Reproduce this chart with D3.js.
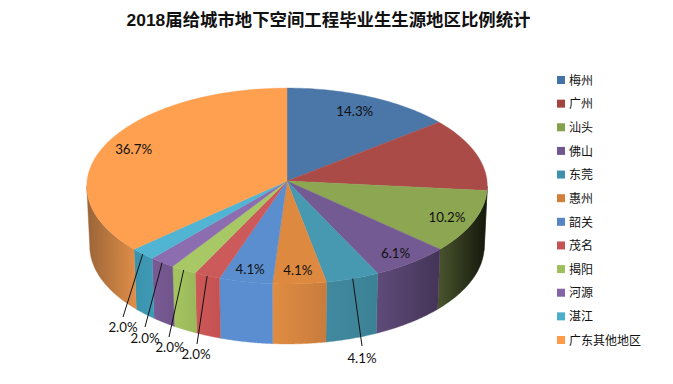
<!DOCTYPE html>
<html><head><meta charset="utf-8">
<script src="https://cdn.jsdelivr.net/npm/d3@7"></script>
<style>html,body{margin:0;padding:0;background:#fff}svg{display:block}</style>
</head><body><svg id="c" width="673" height="384"></svg>
<script>
const chartTitle = ["2018", "届给城市地下空间工程毕业生生源地区比例统计"];
const categories = ["梅州","广州","汕头","佛山","东莞","惠州","韶关","茂名","揭阳","河源","湛江","广东其他地区"];
const values = [14.3,12.2,10.2,6.1,4.1,4.1,4.1,2.0,2.0,2.0,2.0,36.7];
const showLabel = [true,false,true,true,true,true,true,true,true,true,true,true];
const topColors = ["#4a76a8","#aa4b48","#8ca652","#745a92","#4799b1","#dd8a40","#5b8ecf","#cd5a5a","#a8c865","#8c6eb0","#50b4d2","#ffa050"];
const legendColors = ["#4472a6","#a5433f","#86a04b","#6f5790","#3f90ab","#d27f3a","#5585c5","#c65353","#9fbf5c","#8364a6","#4baecb","#ff9a48"];
const wallLeft = ["#26291a","#26291a","#4a552e","#5f4b7a","#41899f","#e08c42","#5b8ed0","#cd5858","#a5c560","#7b5b96","#3a93ad","#9a6438"];
const wallRight = ["#101208","#101208","#14170b","#443457","#3c8296","#c87c3c","#5b8ed0","#c45252","#9ab85a","#6f5489","#3f9ab5","#e08e48"];
// layout, separate from the data
const persp = 0.051, depth = 60, bottomShrink = 0.985, insideRadius = 0.87;
const labelNudge = {0:[-5,4],2:[-2,1],3:[1,2],5:[0,1],6:[-1,1],11:[3,2]};
const leaderEnds = {4:[362,346],7:[197,344],8:[169,337],9:[145,327],10:[123,317]};
const leaderLabels = {4:[362,358],7:[196,354],8:[170,347],9:[145,338],10:[123,327]};

const svg = d3.select("#c");
const x = d3.scaleLinear().domain([-1,1]).range([87,487]);
const y = d3.scaleLinear().domain([-1,1]).range([83.3,278.7]);
const project = (a, shrink=1, dy=0) => {
  const u = Math.sin(a), v = -Math.cos(a), k = 1/(1-persp*v);
  return [x(u*k*shrink), y(v*k)+dy];
};
const TAU = Math.PI*2;
const sampled = (a0,a1) => d3.range(0,41).map(i=>a0+(a1-a0)*i/40);
const arcs = d3.pie().sort(null).value(d=>d).startAngle(0).endAngle(TAU)(values);
const line = d3.line();
const cx = x(0), cy = y(0);

// walls
const defs = svg.append("defs");
const visA0 = Math.acos(-persp), visA1 = TAU-visA0;
const walls = svg.append("g");
arcs.forEach((d,i)=>{
  const a0 = Math.max(d.startAngle,visA0), a1 = Math.min(d.endAngle,visA1);
  if(a1<=a0) return;
  const top = sampled(a0,a1).map(a=>project(a));
  const bot = sampled(a1,a0).map(a=>project(a,bottomShrink,depth));
  const pts = top.concat(bot);
  const xs = d3.extent(pts,p=>p[0]);
  const g = defs.append("linearGradient").attr("id","w"+i).attr("gradientUnits","userSpaceOnUse")
    .attr("x1",xs[0]).attr("x2",xs[1]).attr("y1",0).attr("y2",0);
  g.append("stop").attr("offset",0).attr("stop-color",wallLeft[i]);
  g.append("stop").attr("offset",1).attr("stop-color",wallRight[i]);
  walls.append("path").attr("d",line(pts)+"Z").attr("fill",`url(#w${i})`).attr("stroke",`url(#w${i})`).attr("stroke-width",0.4);
});

// top
svg.append("g").selectAll("path").data(arcs).join("path")
  .attr("d",d=>line([[cx,cy]].concat(sampled(d.startAngle,d.endAngle).map(a=>project(a))))+"Z")
  .attr("fill",(d,i)=>topColors[i])
  .attr("stroke",(d,i)=>topColors[i]).attr("stroke-width",0.4);

// leader lines and labels
const fmt = v=>v.toFixed(1)+"%";
const leaders = svg.append("g");
const lab = svg.append("g").attr("font-family","Lato, 'Noto Sans'").attr("font-size",13.3).attr("fill","#111").attr("text-anchor","middle");
arcs.forEach((d,i)=>{
  if(!showLabel[i]) return;
  const mid=(d.startAngle+d.endAngle)/2;
  if(leaderEnds[i]){
    const s=project(mid);
    leaders.append("line").attr("x1",s[0]).attr("y1",s[1]).attr("x2",leaderEnds[i][0]).attr("y2",leaderEnds[i][1]).attr("stroke","#111").attr("stroke-width",1);
    lab.append("text").attr("x",leaderLabels[i][0]).attr("y",leaderLabels[i][1]).attr("dy","0.35em").text(fmt(values[i]));
  } else {
    const u=Math.sin(mid)*insideRadius, v=-Math.cos(mid)*insideRadius, k=1/(1-persp*v);
    const n=labelNudge[i]||[0,0];
    lab.append("text").attr("x",x(u*k)+n[0]).attr("y",y(v*k)+n[1]).attr("dy","0.35em").text(fmt(values[i]));
  }
});

// title
const t = svg.append("text").attr("x",328.5).attr("y",26).attr("text-anchor","middle").attr("font-weight","bold").attr("font-size",17.4).attr("fill","#111");
t.append("tspan").attr("font-family","'Liberation Sans'").text(chartTitle[0]);
t.append("tspan").attr("font-family","'Noto Sans CJK SC'").text(chartTitle[1]);

// legend
const ly = d3.scalePoint().domain(categories).range([80,340]);
const lg = svg.append("g").selectAll("g").data(categories).join("g").attr("transform",d=>`translate(557,${ly(d)})`);
lg.append("rect").attr("x",0).attr("y",-4).attr("width",8).attr("height",8)
  .attr("fill",(d,i)=>legendColors[i]);
lg.append("text").attr("x",12).attr("y",0.5).attr("dy","0.35em").attr("font-family","'Noto Sans CJK SC'").attr("font-size",12).attr("fill","#111").text(d=>d);
</script></body></html>
